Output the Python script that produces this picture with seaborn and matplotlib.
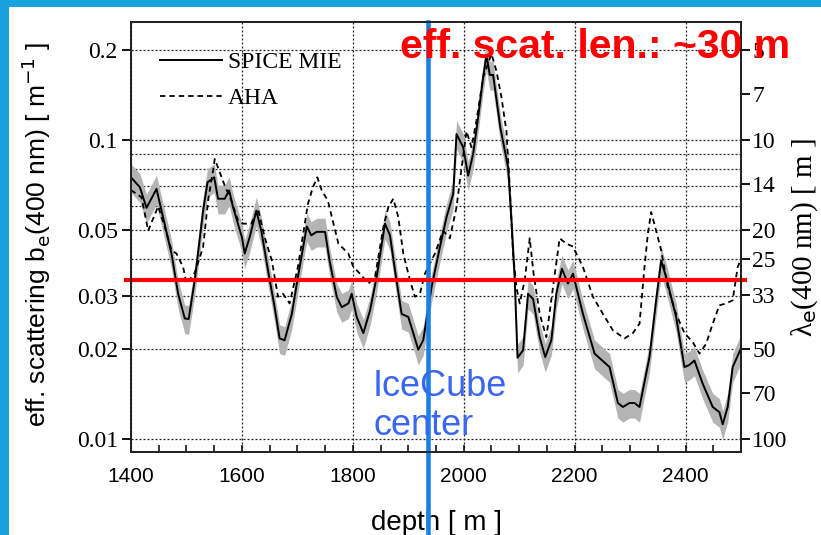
import numpy as np
import pandas as pd
import matplotlib
matplotlib.use("Agg")
import matplotlib.pyplot as plt
from matplotlib.patches import Rectangle
from matplotlib.ticker import FixedLocator, NullFormatter
import seaborn as sns

# ---------------- data ----------------
spice_depth = [1400, 1416, 1428, 1446, 1473, 1485, 1497, 1504, 1515, 1530, 1538, 1550, 1557,
               1569, 1577, 1584, 1600, 1605, 1614, 1626, 1635, 1647, 1659, 1668, 1677, 1690,
               1701, 1717, 1725, 1735, 1750, 1758, 1771, 1780, 1792, 1798, 1807, 1819, 1831,
               1843, 1858, 1867, 1876, 1888, 1900, 1909, 1918, 1927, 1942, 1957, 1969, 1981,
               1987, 1999, 2008, 2017, 2026, 2035, 2041, 2047, 2053, 2066, 2080, 2086, 2092,
               2097, 2107, 2116, 2125, 2137, 2147, 2158, 2167, 2177, 2188, 2197, 2215, 2236,
               2263, 2278, 2287, 2299, 2308, 2317, 2335, 2347, 2356, 2365, 2383, 2398, 2407,
               2416, 2431, 2449, 2461, 2467, 2476, 2485, 2500]
spice_b = [0.075, 0.0695, 0.0593, 0.0686, 0.0417, 0.0306, 0.0253, 0.0252, 0.034, 0.058, 0.0722,
           0.075, 0.0636, 0.0636, 0.0678, 0.0596, 0.0473, 0.0417, 0.0473, 0.058, 0.0497, 0.0367,
           0.0276, 0.0217, 0.0214, 0.0262, 0.0348, 0.0514, 0.048, 0.0493, 0.0493, 0.0395, 0.0299,
           0.0276, 0.0284, 0.0306, 0.0256, 0.0226, 0.0269, 0.0348, 0.0525, 0.048, 0.0367, 0.0262,
           0.0256, 0.0226, 0.0199, 0.0214, 0.0322, 0.0438, 0.0552, 0.066, 0.1047, 0.0945, 0.076,
           0.0898, 0.119, 0.162, 0.192, 0.165, 0.165, 0.110, 0.081, 0.0538, 0.034, 0.0187, 0.0198,
           0.0306, 0.0294, 0.0219, 0.0188, 0.0214, 0.0306, 0.0371, 0.0331, 0.0357, 0.0262, 0.0193,
           0.0174, 0.0132, 0.0128, 0.0132, 0.0132, 0.0128, 0.0188, 0.0291, 0.0395, 0.0348, 0.0256,
           0.0174, 0.0177, 0.0183, 0.0153, 0.0128, 0.0123, 0.0112, 0.0128, 0.0174, 0.0201]

aha_depth = [1400, 1419, 1431, 1449, 1461, 1473, 1482, 1494, 1500, 1515, 1530, 1539, 1548, 1551,
             1560, 1569, 1581, 1593, 1602, 1617, 1629, 1641, 1654, 1665, 1674, 1686, 1701, 1719,
             1728, 1736, 1744, 1755, 1774, 1792, 1801, 1813, 1828, 1840, 1855, 1864, 1873, 1882,
             1891, 1903, 1912, 1921, 1930, 1948, 1963, 1975, 1987, 1993, 2005, 2014, 2023, 2035,
             2050, 2059, 2068, 2077, 2083, 2089, 2095, 2101, 2110, 2119, 2126, 2137, 2149, 2161,
             2173, 2185, 2197, 2205, 2215, 2233, 2251, 2269, 2290, 2305, 2317, 2326, 2332, 2338,
             2347, 2356, 2368, 2383, 2398, 2413, 2425, 2437, 2449, 2461, 2473, 2485, 2494, 2500]
aha_b = [0.068, 0.0643, 0.0497, 0.060, 0.0511, 0.0428, 0.0417, 0.0376, 0.0331, 0.036, 0.0438,
         0.0627, 0.079, 0.0864, 0.078, 0.0704, 0.0627, 0.0538, 0.0525, 0.0525, 0.0589, 0.0473,
         0.0395, 0.0299, 0.0306, 0.0284, 0.0376, 0.0611, 0.0695, 0.075, 0.0678, 0.0627, 0.045,
         0.0417, 0.0376, 0.0357, 0.0331, 0.0348, 0.0511, 0.0596, 0.0636, 0.0552, 0.0417, 0.034,
         0.0299, 0.0306, 0.0357, 0.0417, 0.0497, 0.0469, 0.0596, 0.073, 0.107, 0.0945, 0.116,
         0.162, 0.194, 0.170, 0.139, 0.107, 0.0695, 0.0417, 0.0322, 0.0284, 0.034, 0.0469, 0.0357,
         0.0262, 0.0219, 0.0322, 0.0469, 0.045, 0.044, 0.041, 0.0376, 0.0299, 0.0262, 0.0231,
         0.0217, 0.0226, 0.0243, 0.0376, 0.0485, 0.0574, 0.0497, 0.0428, 0.0322, 0.0262, 0.0226,
         0.0211, 0.0193, 0.0208, 0.0243, 0.028, 0.0284, 0.0291, 0.0376, 0.040]

left_ticks = [0.01, 0.02, 0.03, 0.05, 0.1, 0.2]
left_labels = ["0.01", "0.02", "0.03", "0.05", "0.1", "0.2"]
grid_minor = [0.04, 0.06, 0.07, 0.08, 0.09]
lambda_ticks = [5, 7, 10, 14, 20, 25, 33, 50, 70, 100]
x_ticks = [1400, 1600, 1800, 2000, 2200, 2400]
series_names = ["SPICE MIE", "AHA"]
icecube_center = 1935
eff_len_b = 0.0341

df_spice = pd.DataFrame({"depth": spice_depth, "b": spice_b})
df_aha = pd.DataFrame({"depth": aha_depth, "b": aha_b})

# ---------------- figure ----------------
W, H = 821, 535
fig = plt.figure(figsize=(W / 100, H / 100), dpi=100)
fig.patch.set_facecolor("#18a2dc")
fig.add_artist(Rectangle((9 / W, 0), 1 - 9 / W, 1 - 7 / H, transform=fig.transFigure,
                         facecolor="white", edgecolor="none", zorder=0))

ax = fig.add_axes([131 / W, 1 - 452 / H, 610 / W, 430 / H])
ax.set_facecolor("white")

rel = 0.11
ax.fill_between(df_spice["depth"], df_spice["b"] * (1 - rel), df_spice["b"] * (1 + rel),
                color="#b4b4b4", lw=0, zorder=2)
sns.lineplot(data=df_spice, x="depth", y="b", ax=ax, color="black", lw=1.4,
             errorbar=None, label=series_names[0], zorder=3)
sns.lineplot(data=df_aha, x="depth", y="b", ax=ax, color="black", lw=1.3,
             linestyle=(0, (3, 2.2)), errorbar=None, label=series_names[1], zorder=3)

ax.set_yscale("log")
ax.set_xlim(1400, 2500)
ax.set_ylim(0.00905, 0.248)
ax.set_yticks(left_ticks)
ax.set_yticklabels(left_labels)
ax.yaxis.set_minor_locator(FixedLocator(grid_minor))
ax.yaxis.set_minor_formatter(NullFormatter())
ax.set_xticks(x_ticks)
ax.xaxis.set_minor_locator(FixedLocator(list(range(1450, 2500, 50))))

gkw = dict(color="#222222", lw=0.9, linestyle=(0, (1.6, 1.6)))
ax.grid(axis="y", which="both", **gkw)
ax.grid(axis="x", which="major", **gkw)
ax.set_axisbelow(True)

for s in ax.spines.values():
    s.set_linewidth(1.3)
    s.set_color("#222222")

ax.tick_params(axis="y", which="major", direction="out", length=6.5, width=1.3,
               pad=3, labelsize=17, left=True, right=False)
ax.tick_params(axis="y", which="minor", length=0)
ax.tick_params(axis="x", which="both", direction="in", length=5, width=1.1,
               pad=11, labelsize=15, top=False)
for lab in ax.get_yticklabels():
    lab.set_family("Liberation Serif")
for lab in ax.get_xticklabels():
    lab.set_family("Liberation Sans")

ax.set_xlabel("depth [ m ]", fontsize=20, family="Liberation Sans")
ax.xaxis.set_label_coords(0.5, -0.135)
ax.set_ylabel(r"eff. scattering b$_\mathrm{e}$(400 nm) [ m$^\mathrm{-1}$ ]",
              fontsize=19, family="Liberation Sans")
ax.yaxis.set_label_coords(-0.128, 0.505)

# right axis: lambda_e = 1 / b_e
ax2 = ax.twinx()
ax2.set_yscale("log")
ax2.set_ylim(ax.get_ylim())
ax2.set_yticks([1.0 / l for l in lambda_ticks])
ax2.set_yticklabels([str(l) for l in lambda_ticks], family="Liberation Serif")
ax2.yaxis.set_minor_locator(FixedLocator([]))
ax2.tick_params(axis="y", which="major", direction="out", length=6.5, width=1.3,
                pad=1.5, labelsize=17)
for s in ax2.spines.values():
    s.set_linewidth(1.3)
    s.set_color("#222222")
ax2.set_ylabel(r"λ$_\mathrm{e}$(400 nm) [ m ]", fontsize=21, family="Liberation Serif")
ax2.yaxis.set_label_coords(1.080, 0.498)

# legend
handles, labels = ax.get_legend_handles_labels()
ax.legend(handles, labels, loc="upper left", bbox_to_anchor=(0.0475, 0.931),
          frameon=False, borderpad=0, borderaxespad=0, handlelength=2.63,
          handletextpad=0.25, labelspacing=0.62,
          prop={"family": "Liberation Serif", "size": 17})

# overlays
ax.axvline(icecube_center, ymin=-(H - 452) / 430, ymax=1, color="#1a80e6", lw=3.3,
           clip_on=False, zorder=6)
ax.axhline(eff_len_b, xmin=-5 / 610, xmax=1 + 4 / 610, color="#ff0000", lw=3.0,
           clip_on=False, zorder=7)
fig.text(400 / W, 1 - 58 / H, "eff. scat. len.: ~30 m", color="#ff0000", fontsize=29.5,
         fontweight="bold", family="Liberation Sans", ha="left", va="baseline", zorder=10)
fig.text(373 / W, 1 - 435 / H, "IceCube\ncenter", color="#3a66f0", fontsize=26,
         family="Liberation Sans", ha="left", va="baseline", linespacing=1.15, zorder=10)

fig.savefig("out.png", dpi=100, facecolor=fig.get_facecolor())
